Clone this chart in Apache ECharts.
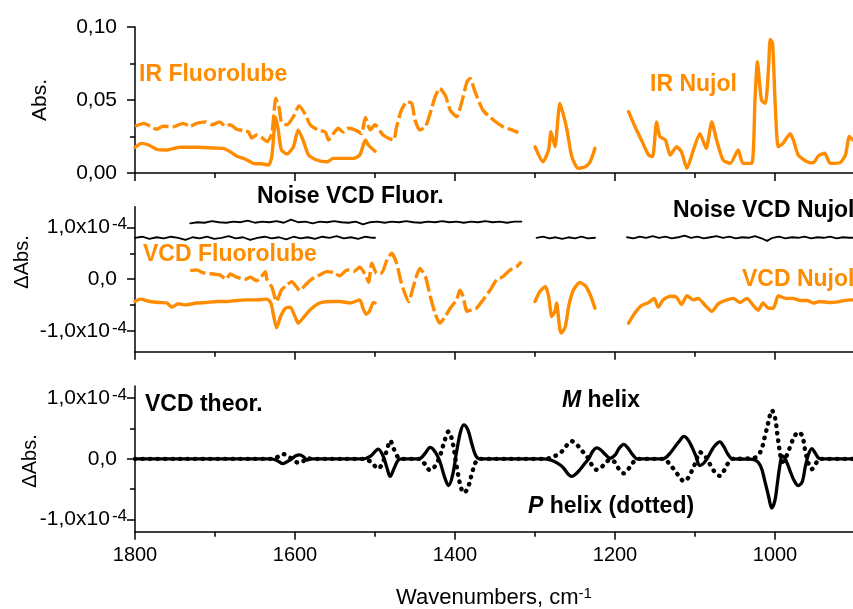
<!DOCTYPE html>
<html>
<head>
<meta charset="utf-8">
<script src="https://cdn.jsdelivr.net/npm/echarts@6/dist/echarts.min.js"></script>
<style>html,body{margin:0;padding:0;background:#fff;}#c{width:853px;height:609px;}</style>
</head>
<body>
<div id="c"></div>
<script>
// ---------- DATA (wavenumber cm-1, value) ----------
// Top panel: IR absorbance
const irFluoroDashed = [[1800,0.032],[1789,0.034],[1781,0.032],[1773,0.030],[1765,0.032],[1752,0.0317],[1740,0.034],[1731,0.032],[1723,0.034],[1712,0.035],[1704,0.033],[1694,0.035],[1687,0.032],[1681,0.033],[1673,0.030],[1665,0.029],[1658,0.028],[1654,0.024],[1648,0.026],[1642,0.0245],[1635,0.0215],[1629,0.027],[1624,0.051],[1620,0.045],[1617,0.035],[1610,0.033],[1602,0.0386],[1595,0.046],[1587,0.040],[1581,0.033],[1571,0.0295],[1562,0.028],[1558,0.0226],[1552,0.027],[1546,0.0306],[1540,0.028],[1533,0.0306],[1523,0.029],[1517,0.027],[1512,0.038],[1506,0.0295],[1500,0.033],[1490,0.026],[1477,0.0226],[1473,0.0317],[1467,0.043],[1460,0.0488],[1454,0.0477],[1450,0.0363],[1444,0.0295],[1437,0.0317],[1431,0.041],[1425,0.052],[1419,0.058],[1412,0.053],[1406,0.043],[1398,0.0386],[1392,0.0477],[1385,0.0625],[1381,0.0648],[1375,0.0557],[1365,0.043],[1352,0.0363],[1340,0.0317],[1329,0.0295],[1321,0.0276]];
const irFluoroSolid = [[1800,0.0176],[1792,0.0203],[1783,0.0192],[1773,0.0162],[1760,0.0158],[1744,0.0176],[1723,0.0176],[1702,0.0171],[1690,0.0169],[1681,0.0146],[1673,0.0116],[1662,0.0094],[1652,0.0066],[1640,0.0062],[1633,0.0055],[1629,0.0112],[1626,0.0295],[1624,0.038],[1621,0.0295],[1617,0.0158],[1610,0.013],[1602,0.018],[1596,0.0295],[1590,0.0226],[1583,0.0123],[1573,0.0089],[1560,0.0077],[1552,0.010],[1540,0.010],[1527,0.010],[1519,0.0123],[1512,0.0226],[1508,0.019],[1500,0.0150]];
const irNujolA = [[1300,0.018],[1290,0.0077],[1283,0.0158],[1280,0.0283],[1275,0.018],[1269,0.0477],[1265,0.041],[1260,0.0295],[1254,0.0112],[1246,0.0032],[1237,0.0043],[1231,0.0077],[1225,0.0169]];
const irNujolB = [[1183,0.042],[1175,0.0317],[1167,0.0226],[1158,0.0123],[1153,0.0112],[1148,0.035],[1144,0.025],[1137,0.0226],[1131,0.0123],[1123,0.018],[1117,0.0146],[1110,0.0032],[1102,0.0158],[1094,0.027],[1086,0.0169],[1079,0.035],[1073,0.0226],[1065,0.0089],[1056,0.0066],[1046,0.0158],[1040,0.0066],[1029,0.0066],[1025,0.05],[1022,0.0762],[1017,0.05],[1012,0.0477],[1008,0.0728],[1006,0.0915],[1003,0.0888],[1000,0.05],[996,0.018],[990,0.0203],[981,0.027],[977,0.0226],[971,0.0123],[960,0.0077],[952,0.007],[946,0.0116],[938,0.0135],[931,0.0066],[919,0.007],[912,0.0123],[907,0.025],[903,0.0226]];

// Middle panel: measured VCD and noise (units of 1e-4)
const vcdFluoroDashed = [[1731,0.165],[1723,0.18],[1715,0.127],[1702,0.10],[1694,0.083],[1686,0.0],[1681,0.10],[1673,0.04],[1662,0.0],[1656,0.04],[1648,-0.03],[1642,0.05],[1637,0.146],[1635,-0.01],[1629,-0.15],[1623,-0.43],[1617,-0.21],[1610,-0.11],[1604,-0.046],[1598,-0.15],[1594,-0.22],[1587,-0.11],[1579,0.0],[1569,0.083],[1560,0.146],[1552,0.127],[1544,0.063],[1535,0.18],[1527,0.146],[1519,0.23],[1512,0.08],[1508,-0.06],[1504,0.31],[1498,0.115],[1492,0.115],[1485,0.37],[1479,0.5],[1473,0.31],[1467,-0.077],[1458,-0.43],[1452,-0.14],[1444,0.21],[1437,0.05],[1431,-0.33],[1425,-0.65],[1419,-0.85],[1412,-0.72],[1406,-0.56],[1398,-0.40],[1394,-0.21],[1390,-0.33],[1385,-0.62],[1379,-0.59],[1373,-0.56],[1365,-0.40],[1356,-0.21],[1348,-0.013],[1340,0.05],[1331,0.18],[1323,0.24],[1317,0.34]];
const vcdFluoroSolid = [[1800,-0.43],[1794,-0.385],[1781,-0.43],[1769,-0.45],[1760,-0.46],[1754,-0.54],[1746,-0.475],[1736,-0.495],[1723,-0.46],[1711,-0.45],[1698,-0.43],[1686,-0.43],[1673,-0.41],[1661,-0.40],[1648,-0.40],[1635,-0.385],[1630,-0.46],[1627,-0.69],[1623,-0.94],[1618,-0.72],[1612,-0.56],[1606,-0.54],[1600,-0.72],[1596,-0.85],[1590,-0.75],[1581,-0.59],[1569,-0.46],[1556,-0.43],[1544,-0.43],[1531,-0.46],[1519,-0.40],[1515,-0.56],[1511,-0.68],[1507,-0.62],[1502,-0.45],[1500,-0.46]];
const vcdNujolA = [[1300,-0.43],[1294,-0.24],[1287,-0.14],[1283,-0.33],[1279,-0.72],[1275,-0.62],[1273,-0.46],[1269,-0.97],[1267,-1.04],[1262,-0.91],[1258,-0.53],[1252,-0.21],[1244,-0.065],[1237,-0.13],[1231,-0.30],[1225,-0.56]];
const vcdNujolB = [[1183,-0.85],[1175,-0.65],[1167,-0.51],[1158,-0.45],[1151,-0.37],[1146,-0.54],[1140,-0.40],[1131,-0.33],[1123,-0.35],[1117,-0.49],[1110,-0.32],[1102,-0.40],[1096,-0.37],[1087,-0.51],[1079,-0.62],[1071,-0.475],[1060,-0.40],[1052,-0.37],[1044,-0.45],[1035,-0.37],[1027,-0.51],[1021,-0.60],[1015,-0.46],[1008,-0.56],[1002,-0.56],[996,-0.32],[987,-0.37],[977,-0.37],[969,-0.41],[960,-0.41],[952,-0.46],[944,-0.43],[931,-0.45],[919,-0.43],[906,-0.40],[903,-0.40]];
const noiseFluorUpper = [[1731,1.08],[1722,1.10],[1713,1.09],[1704,1.12],[1695,1.10],[1686,1.09],[1677,1.11],[1668,1.10],[1659,1.13],[1650,1.09],[1641,1.11],[1632,1.10],[1623,1.12],[1614,1.09],[1605,1.15],[1596,1.10],[1587,1.11],[1578,1.08],[1569,1.11],[1560,1.10],[1551,1.12],[1542,1.10],[1533,1.09],[1524,1.11],[1515,1.06],[1506,1.10],[1497,1.11],[1488,1.09],[1479,1.11],[1470,1.10],[1461,1.12],[1452,1.10],[1443,1.09],[1434,1.11],[1425,1.10],[1416,1.12],[1407,1.10],[1398,1.11],[1389,1.09],[1380,1.11],[1371,1.10],[1362,1.12],[1353,1.10],[1344,1.11],[1335,1.09],[1326,1.11],[1317,1.11]];
const noiseFluorLower = [[1800,0.80],[1791,0.82],[1782,0.78],[1773,0.81],[1764,0.79],[1755,0.82],[1746,0.80],[1737,0.76],[1728,0.81],[1719,0.79],[1710,0.82],[1701,0.78],[1692,0.80],[1683,0.83],[1674,0.79],[1665,0.81],[1656,0.76],[1647,0.80],[1638,0.82],[1629,0.79],[1620,0.81],[1611,0.77],[1602,0.82],[1593,0.79],[1584,0.81],[1575,0.78],[1566,0.82],[1557,0.80],[1548,0.83],[1539,0.79],[1530,0.81],[1521,0.78],[1512,0.82],[1503,0.80],[1500,0.80]];
const noiseNujolA = [[1298,0.80],[1290,0.82],[1282,0.79],[1274,0.81],[1266,0.78],[1258,0.81],[1250,0.79],[1242,0.82],[1234,0.79],[1225,0.80]];
const noiseNujolB = [[1185,0.81],[1177,0.79],[1169,0.82],[1161,0.80],[1153,0.83],[1145,0.80],[1137,0.82],[1129,0.79],[1121,0.81],[1113,0.84],[1105,0.80],[1097,0.82],[1089,0.79],[1081,0.81],[1073,0.83],[1065,0.80],[1057,0.82],[1049,0.79],[1041,0.81],[1033,0.80],[1025,0.83],[1017,0.79],[1010,0.74],[1003,0.80],[995,0.82],[987,0.79],[979,0.81],[971,0.80],[963,0.82],[955,0.79],[947,0.81],[939,0.80],[931,0.82],[923,0.79],[915,0.81],[907,0.80],[903,0.80]];

// Bottom panel: theoretical VCD (units of 1e-4)
const theoryM = [[1800,0],[1640,0],[1630,0],[1622,-0.03],[1615,-0.08],[1609,-0.04],[1604,0],[1599,0.05],[1594,0.065],[1589,0.03],[1585,-0.02],[1580,0],[1515,0],[1505,0.05],[1496,0.16],[1490,0.05],[1485,-0.15],[1481,-0.29],[1476,-0.15],[1470,-0.01],[1465,0],[1445,0],[1438,0.08],[1431,0.19],[1424,0.1],[1418,-0.08],[1413,-0.30],[1408,-0.44],[1403,-0.27],[1398,0.12],[1393,0.45],[1389,0.56],[1384,0.48],[1379,0.25],[1374,0.05],[1369,0],[1290,0],[1280,-0.02],[1272,-0.07],[1265,-0.14],[1258,-0.26],[1254,-0.29],[1249,-0.25],[1244,-0.18],[1238,-0.08],[1233,0],[1228,0.12],[1223,0.18],[1218,0.15],[1212,0.07],[1206,0.01],[1200,0.06],[1195,0.17],[1189,0.24],[1184,0.18],[1178,0.07],[1172,0],[1140,0],[1132,0.08],[1125,0.2],[1119,0.3],[1114,0.37],[1109,0.32],[1104,0.2],[1099,0.05],[1094,-0.11],[1089,-0.07],[1085,0],[1080,0.12],[1075,0.22],[1069,0.28],[1064,0.2],[1059,0.08],[1053,0],[1035,-0.005],[1025,-0.02],[1018,-0.12],[1013,-0.35],[1008,-0.62],[1004,-0.81],[1000,-0.68],[997,-0.4],[994,-0.12],[991,0.05],[988,0.02],[984,-0.1],[980,-0.24],[976,-0.36],[971,-0.44],[966,-0.38],[962,-0.12],[958,0.08],[954,0.17],[950,0.1],[946,0.02],[943,0],[902,0]];
const theoryP = [[1800,0],[1640,0],[1630,0],[1622,0.03],[1615,0.08],[1609,0.04],[1604,0],[1599,-0.05],[1594,-0.065],[1589,-0.03],[1585,0.02],[1580,0],[1515,0],[1505,-0.05],[1496,-0.16],[1490,-0.05],[1485,0.15],[1481,0.30],[1476,0.15],[1470,0.01],[1465,0],[1445,0],[1438,-0.08],[1431,-0.19],[1424,-0.1],[1418,0.08],[1413,0.30],[1408,0.45],[1403,0.27],[1398,-0.12],[1393,-0.45],[1389,-0.56],[1384,-0.48],[1379,-0.25],[1374,-0.05],[1369,0],[1290,0],[1280,0.02],[1272,0.07],[1265,0.14],[1258,0.26],[1254,0.29],[1249,0.25],[1244,0.18],[1238,0.08],[1233,0],[1228,-0.12],[1223,-0.18],[1218,-0.15],[1212,-0.07],[1206,-0.01],[1200,-0.06],[1195,-0.17],[1189,-0.24],[1184,-0.18],[1178,-0.07],[1172,0],[1140,0],[1132,-0.08],[1125,-0.2],[1119,-0.3],[1114,-0.37],[1109,-0.32],[1104,-0.2],[1099,-0.05],[1094,0.11],[1089,0.07],[1085,0],[1080,-0.12],[1075,-0.22],[1069,-0.28],[1064,-0.2],[1059,-0.08],[1053,0],[1035,0.005],[1025,0.02],[1018,0.12],[1013,0.35],[1008,0.62],[1004,0.80],[1000,0.68],[997,0.4],[994,0.12],[991,-0.05],[988,-0.02],[984,0.1],[980,0.24],[976,0.36],[971,0.44],[966,0.38],[962,0.12],[958,-0.08],[954,-0.17],[950,-0.1],[946,-0.02],[943,0],[902,0]];

// Tick values
const xMajorTicks = [1800, 1600, 1400, 1200, 1000];
const xMinorTicks = [1700, 1500, 1300, 1100];
const absMajorTicks = [0, 0.05, 0.10];
const absMinorTicks = [0.025, 0.075];
const vcdMajorTicks = [-1, 0, 1];
const vcdMinorTicks = [-0.5, 0.5];

// ---------- CHART ----------
const FONT = "'Liberation Sans', Arial, sans-serif";
const ORANGE = '#FF8C00';
const chart = echarts.init(document.getElementById('c'), null, {renderer: 'canvas'});

const grids = [
  {left: 135, right: 0, top: 27, height: 146},
  {left: 135, right: 0, top: 206.7, height: 145},
  {left: 135, right: 0, top: 386, height: 145.7}
];
const yRanges = [[0, 0.1], [-1.4, 1.4], [-1.2, 1.2]];

const xAxes = [], yAxes = [];
grids.forEach((g, i) => {
  const isBottom = i === 2;
  xAxes.push({
    type: 'value', gridIndex: i, min: 902.5, max: 1800, inverse: true, position: 'bottom',
    axisLine: {show: true, onZero: false, lineStyle: {color: '#000', width: 1.5}},
    splitLine: {show: false},
    axisTick: {show: true, length: 8, customValues: xMajorTicks, lineStyle: {color: '#000', width: 1.5}},
    axisLabel: {show: isBottom, customValues: xMajorTicks, margin: 14, color: '#000', fontSize: 20, fontFamily: FONT, formatter: v => String(v)}
  });
  xAxes.push({
    type: 'value', gridIndex: i, min: 902.5, max: 1800, inverse: true, position: 'bottom',
    axisLine: {show: false, onZero: false}, splitLine: {show: false},
    axisTick: {show: true, length: 5, customValues: xMinorTicks, lineStyle: {color: '#000', width: 1.5}},
    axisLabel: {show: false}
  });
  const major = i === 0 ? absMajorTicks : vcdMajorTicks;
  const minor = i === 0 ? absMinorTicks : vcdMinorTicks;
  const fmt = i === 0
    ? (v => '{m|' + v.toFixed(2).replace('.', ',') + '}')
    : (v => v === 0 ? '{m|0,0}{p|}' : '{m|' + (v < 0 ? '-' : '') + '1,0x10}{s|-4}');
  yAxes.push({
    type: 'value', gridIndex: i, min: yRanges[i][0], max: yRanges[i][1], position: 'left',
    axisLine: {show: true, onZero: false, lineStyle: {color: '#000', width: 1.5}},
    splitLine: {show: false},
    axisTick: {show: true, length: 8, customValues: major, lineStyle: {color: '#000', width: 1.5}},
    axisLabel: {show: true, customValues: major, margin: i === 0 ? 18 : 8, color: '#000', fontSize: 21, fontFamily: FONT, formatter: fmt,
      rich: {m: {fontSize: 21, fontFamily: FONT, color: '#000', lineHeight: 23},
             p: {width: 10, height: 10},
             s: {fontSize: 17, fontFamily: FONT, color: '#000', verticalAlign: 'top', lineHeight: 14, padding: [0, 0, 0, 2]}}}
  });
  yAxes.push({
    type: 'value', gridIndex: i, min: yRanges[i][0], max: yRanges[i][1], position: 'left',
    axisLine: {show: false, onZero: false}, splitLine: {show: false},
    axisTick: {show: true, length: 5, customValues: minor, lineStyle: {color: '#000', width: 1.5}},
    axisLabel: {show: false}
  });
});

function line(data, panel, color, width, type, cap, smooth) {
  return {
    type: 'line', data: data, xAxisIndex: panel * 2, yAxisIndex: panel * 2,
    showSymbol: false, symbol: 'none', smooth: smooth || false, animation: false,
    lineStyle: {color: color, width: width, type: type || 'solid', cap: cap || 'butt', join: 'round'},
    silent: true
  };
}

const series = [
  line(irFluoroSolid, 0, ORANGE, 3.4, 'solid', 'round', 0.2),
  line(irFluoroDashed, 0, ORANGE, 3.4, [16, 4], 'butt', 0.2),
  line(irNujolA, 0, ORANGE, 3.4, 'solid', 'round', 0.2),
  line(irNujolB, 0, ORANGE, 3.4, 'solid', 'round', 0.2),
  line(noiseFluorUpper, 1, '#000', 1.8, 'solid', 'round', false),
  line(noiseFluorLower, 1, '#000', 1.8, 'solid', 'round', false),
  line(noiseNujolA, 1, '#000', 1.8, 'solid', 'round', false),
  line(noiseNujolB, 1, '#000', 1.8, 'solid', 'round', false),
  line(vcdFluoroSolid, 1, ORANGE, 3.4, 'solid', 'round', 0.2),
  line(vcdFluoroDashed, 1, ORANGE, 3.4, [16, 4], 'butt', 0.2),
  line(vcdNujolA, 1, ORANGE, 3.4, 'solid', 'round', 0.2),
  line(vcdNujolB, 1, ORANGE, 3.4, 'solid', 'round', 0.2),
  line(theoryM, 2, '#000', 3.3, 'solid', 'round', 0.35),
  line(theoryP, 2, '#000', 4.4, [0.5, 7], 'round', 0.35)
];

function txt(x, y, s, color) {
  return {type: 'text', x: x, y: y, silent: true,
    style: {text: s, fill: color, font: "bold 23px " + FONT, align: 'left', verticalAlign: 'middle'}};
}

const graphics = [
  txt(139, 74.5, 'IR Fluorolube', ORANGE),
  txt(650, 85, 'IR Nujol', ORANGE),
  txt(257, 197, 'Noise VCD Fluor.', '#000'),
  txt(673, 211, 'Noise VCD Nujol', '#000'),
  txt(143, 254.5, 'VCD Fluorolube', ORANGE),
  txt(742, 280, 'VCD Nujol', ORANGE),
  txt(145, 404.5, 'VCD theor.', '#000'),
  {type: 'text', x: 562, y: 400.5, silent: true, style: {text: '{i|M} helix', fill: '#000', font: 'bold 23px ' + FONT, verticalAlign: 'middle',
    rich: {i: {fontStyle: 'italic', fontWeight: 'bold', fontSize: 23, fontFamily: FONT, fill: '#000'}}}},
  {type: 'text', x: 528, y: 506.5, silent: true, style: {text: '{i|P} helix (dotted)', fill: '#000', font: 'bold 23px ' + FONT, verticalAlign: 'middle',
    rich: {i: {fontStyle: 'italic', fontWeight: 'bold', fontSize: 23, fontFamily: FONT, fill: '#000'}}}},
  {type: 'text', x: 40, y: 100, rotation: Math.PI / 2, silent: true, style: {text: 'Abs.', fill: '#000', font: '21px ' + FONT, align: 'center', verticalAlign: 'middle'}},
  {type: 'text', x: 22, y: 262, rotation: Math.PI / 2, silent: true, style: {text: '\u0394Abs.', fill: '#000', font: '20px ' + FONT, align: 'center', verticalAlign: 'middle'}},
  {type: 'text', x: 30, y: 461, rotation: Math.PI / 2, silent: true, style: {text: '\u0394Abs.', fill: '#000', font: '20px ' + FONT, align: 'center', verticalAlign: 'middle'}},
  {type: 'text', x: 494, y: 598, silent: true, style: {text: '{a|Wavenumbers, cm}{s|-1}', fill: '#000', font: '22px ' + FONT, align: 'center', verticalAlign: 'middle',
    rich: {a: {fontSize: 22, fontFamily: FONT, fill: '#000', lineHeight: 24}, s: {fontSize: 15, fontFamily: FONT, fill: '#000', verticalAlign: 'top', lineHeight: 15}}}}
];

chart.setOption({
  animation: false,
  backgroundColor: '#fff',
  grid: grids,
  xAxis: xAxes,
  yAxis: yAxes,
  series: series,
  graphic: graphics
});
</script>
</body>
</html>
